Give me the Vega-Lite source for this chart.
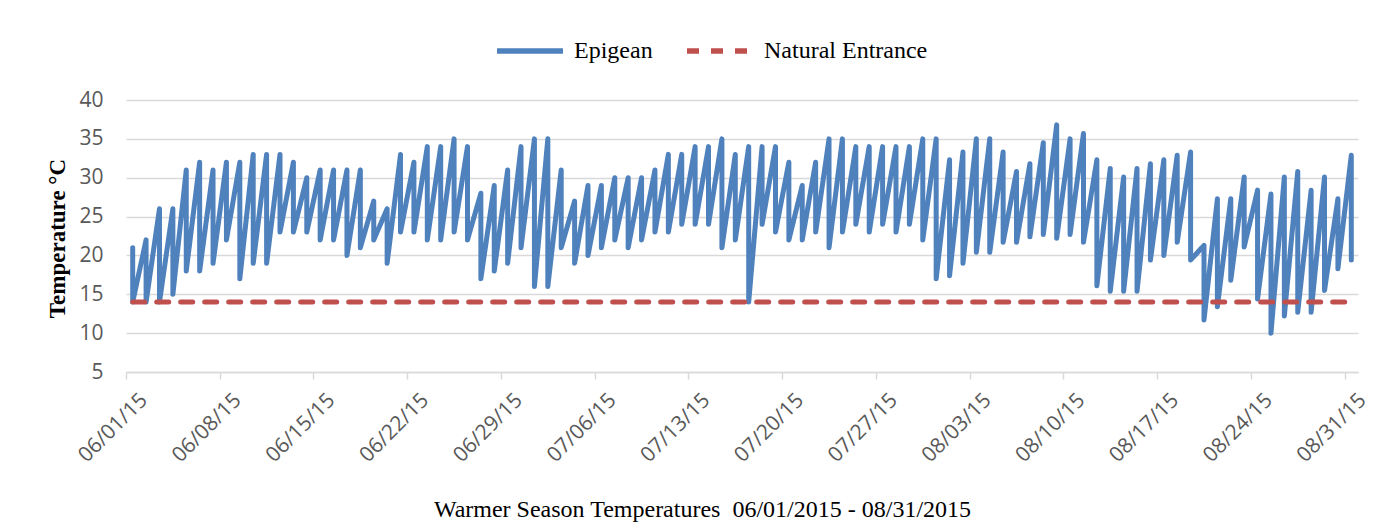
{
  "$schema": "https://vega.github.io/schema/vega-lite/v6.json",
  "width": 1232,
  "height": 272,
  "autosize": {"type": "none"},
  "padding": {"left": 126, "top": 100, "right": 29, "bottom": 155},
  "background": "white",
  "config": {
    "view": {"stroke": null},
    "axis": {"labelFont": "Open Sans", "labelColor": "#595959", "labelFontSize": 21, "gridColor": "#D9D9D9", "gridWidth": 1.5, "domainColor": "#D9D9D9", "tickColor": "#D9D9D9"},
    "legend": {
      "orient": "none", "legendX": 368, "legendY": -85, "direction": "horizontal",
      "symbolType": "stroke", "symbolSize": 4356, "symbolStrokeWidth": 5.5,
      "labelFont": "Liberation Serif", "labelFontSize": 24, "labelColor": "#000000", "labelLimit": 0,
      "labelOffset": 8, "columnPadding": 23, "title": null
    }
  },
  "data": {"values": [
    {"date": "2015-06-01T12:00:00", "max": 21, "min": 14, "ne": 14},
    {"date": "2015-06-02T12:00:00", "max": 22, "min": 14, "ne": 14},
    {"date": "2015-06-03T12:00:00", "max": 26, "min": 14, "ne": 14},
    {"date": "2015-06-04T12:00:00", "max": 26, "min": 15, "ne": 14},
    {"date": "2015-06-05T12:00:00", "max": 31, "min": 18, "ne": 14},
    {"date": "2015-06-06T12:00:00", "max": 32, "min": 18, "ne": 14},
    {"date": "2015-06-07T12:00:00", "max": 31, "min": 19, "ne": 14},
    {"date": "2015-06-08T12:00:00", "max": 32, "min": 22, "ne": 14},
    {"date": "2015-06-09T12:00:00", "max": 32, "min": 17, "ne": 14},
    {"date": "2015-06-10T12:00:00", "max": 33, "min": 19, "ne": 14},
    {"date": "2015-06-11T12:00:00", "max": 33, "min": 19, "ne": 14},
    {"date": "2015-06-12T12:00:00", "max": 33, "min": 23, "ne": 14},
    {"date": "2015-06-13T12:00:00", "max": 32, "min": 23, "ne": 14},
    {"date": "2015-06-14T12:00:00", "max": 30, "min": 23, "ne": 14},
    {"date": "2015-06-15T12:00:00", "max": 31, "min": 22, "ne": 14},
    {"date": "2015-06-16T12:00:00", "max": 31, "min": 22, "ne": 14},
    {"date": "2015-06-17T12:00:00", "max": 31, "min": 20, "ne": 14},
    {"date": "2015-06-18T12:00:00", "max": 31, "min": 21, "ne": 14},
    {"date": "2015-06-19T12:00:00", "max": 27, "min": 22, "ne": 14},
    {"date": "2015-06-20T12:00:00", "max": 26, "min": 19, "ne": 14},
    {"date": "2015-06-21T12:00:00", "max": 33, "min": 23, "ne": 14},
    {"date": "2015-06-22T12:00:00", "max": 32, "min": 23, "ne": 14},
    {"date": "2015-06-23T12:00:00", "max": 34, "min": 22, "ne": 14},
    {"date": "2015-06-24T12:00:00", "max": 34, "min": 22, "ne": 14},
    {"date": "2015-06-25T12:00:00", "max": 35, "min": 23, "ne": 14},
    {"date": "2015-06-26T12:00:00", "max": 34, "min": 22, "ne": 14},
    {"date": "2015-06-27T12:00:00", "max": 28, "min": 17, "ne": 14},
    {"date": "2015-06-28T12:00:00", "max": 29, "min": 18, "ne": 14},
    {"date": "2015-06-29T12:00:00", "max": 31, "min": 19, "ne": 14},
    {"date": "2015-06-30T12:00:00", "max": 34, "min": 21, "ne": 14},
    {"date": "2015-07-01T12:00:00", "max": 35, "min": 16, "ne": 14},
    {"date": "2015-07-02T12:00:00", "max": 35, "min": 16, "ne": 14},
    {"date": "2015-07-03T12:00:00", "max": 31, "min": 21, "ne": 14},
    {"date": "2015-07-04T12:00:00", "max": 27, "min": 19, "ne": 14},
    {"date": "2015-07-05T12:00:00", "max": 29, "min": 20, "ne": 14},
    {"date": "2015-07-06T12:00:00", "max": 29, "min": 21, "ne": 14},
    {"date": "2015-07-07T12:00:00", "max": 30, "min": 22, "ne": 14},
    {"date": "2015-07-08T12:00:00", "max": 30, "min": 21, "ne": 14},
    {"date": "2015-07-09T12:00:00", "max": 30, "min": 22, "ne": 14},
    {"date": "2015-07-10T12:00:00", "max": 31, "min": 23, "ne": 14},
    {"date": "2015-07-11T12:00:00", "max": 33, "min": 23, "ne": 14},
    {"date": "2015-07-12T12:00:00", "max": 33, "min": 24, "ne": 14},
    {"date": "2015-07-13T12:00:00", "max": 34, "min": 24, "ne": 14},
    {"date": "2015-07-14T12:00:00", "max": 34, "min": 24, "ne": 14},
    {"date": "2015-07-15T12:00:00", "max": 35, "min": 21, "ne": 14},
    {"date": "2015-07-16T12:00:00", "max": 33, "min": 22, "ne": 14},
    {"date": "2015-07-17T12:00:00", "max": 34, "min": 14, "ne": 14},
    {"date": "2015-07-18T12:00:00", "max": 34, "min": 24, "ne": 14},
    {"date": "2015-07-19T12:00:00", "max": 34, "min": 23, "ne": 14},
    {"date": "2015-07-20T12:00:00", "max": 32, "min": 22, "ne": 14},
    {"date": "2015-07-21T12:00:00", "max": 29, "min": 22, "ne": 14},
    {"date": "2015-07-22T12:00:00", "max": 32, "min": 23, "ne": 14},
    {"date": "2015-07-23T12:00:00", "max": 35, "min": 21, "ne": 14},
    {"date": "2015-07-24T12:00:00", "max": 35, "min": 23, "ne": 14},
    {"date": "2015-07-25T12:00:00", "max": 34, "min": 24, "ne": 14},
    {"date": "2015-07-26T12:00:00", "max": 34, "min": 23, "ne": 14},
    {"date": "2015-07-27T12:00:00", "max": 34, "min": 24, "ne": 14},
    {"date": "2015-07-28T12:00:00", "max": 34, "min": 23, "ne": 14},
    {"date": "2015-07-29T12:00:00", "max": 34, "min": 24, "ne": 14},
    {"date": "2015-07-30T12:00:00", "max": 35, "min": 22, "ne": 14},
    {"date": "2015-07-31T12:00:00", "max": 35, "min": 17, "ne": 14},
    {"date": "2015-08-01T12:00:00", "max": 32.3, "min": 17.4, "ne": 14},
    {"date": "2015-08-02T12:00:00", "max": 33.3, "min": 19, "ne": 14},
    {"date": "2015-08-03T12:00:00", "max": 35, "min": 20.4, "ne": 14},
    {"date": "2015-08-04T12:00:00", "max": 35, "min": 20.4, "ne": 14},
    {"date": "2015-08-05T12:00:00", "max": 33.3, "min": 21.7, "ne": 14},
    {"date": "2015-08-06T12:00:00", "max": 30.8, "min": 21.7, "ne": 14},
    {"date": "2015-08-07T12:00:00", "max": 31.8, "min": 22.4, "ne": 14},
    {"date": "2015-08-08T12:00:00", "max": 34.5, "min": 22.7, "ne": 14},
    {"date": "2015-08-09T12:00:00", "max": 36.8, "min": 22.2, "ne": 14},
    {"date": "2015-08-10T12:00:00", "max": 35, "min": 22.7, "ne": 14},
    {"date": "2015-08-11T12:00:00", "max": 35.7, "min": 21.7, "ne": 14},
    {"date": "2015-08-12T12:00:00", "max": 32.3, "min": 16.1, "ne": 14},
    {"date": "2015-08-13T12:00:00", "max": 31.2, "min": 15.4, "ne": 14},
    {"date": "2015-08-14T12:00:00", "max": 30.1, "min": 15.4, "ne": 14},
    {"date": "2015-08-15T12:00:00", "max": 31.2, "min": 15.4, "ne": 14},
    {"date": "2015-08-16T12:00:00", "max": 31.8, "min": 19.4, "ne": 14},
    {"date": "2015-08-17T12:00:00", "max": 32.3, "min": 20, "ne": 14},
    {"date": "2015-08-18T12:00:00", "max": 32.9, "min": 21.7, "ne": 14},
    {"date": "2015-08-19T12:00:00", "max": 33.3, "min": 19.4, "ne": 14},
    {"date": "2015-08-20T12:00:00", "max": 21.3, "min": 11.7, "ne": 14},
    {"date": "2015-08-21T12:00:00", "max": 27.3, "min": 13.4, "ne": 14},
    {"date": "2015-08-22T12:00:00", "max": 27.3, "min": 16.8, "ne": 14},
    {"date": "2015-08-23T12:00:00", "max": 30.1, "min": 21.1, "ne": 14},
    {"date": "2015-08-24T12:00:00", "max": 28.4, "min": 14.4, "ne": 14},
    {"date": "2015-08-25T12:00:00", "max": 27.9, "min": 10, "ne": 14},
    {"date": "2015-08-26T12:00:00", "max": 30.1, "min": 12.2, "ne": 14},
    {"date": "2015-08-27T12:00:00", "max": 30.8, "min": 12.7, "ne": 14},
    {"date": "2015-08-28T12:00:00", "max": 28.4, "min": 12.7, "ne": 14},
    {"date": "2015-08-29T12:00:00", "max": 30.1, "min": 15.5, "ne": 14},
    {"date": "2015-08-30T12:00:00", "max": 27.3, "min": 18.3, "ne": 14},
    {"date": "2015-08-31T12:00:00", "max": 32.9, "min": 19.4, "ne": 14}
  ]},
  "encoding": {
    "x": {
      "field": "date", "type": "temporal",
      "scale": {"domain": [{"year": 2015, "month": 6, "date": 1}, {"year": 2015, "month": 9, "date": 1}]},
      "axis": {
        "values": [
          {"year": 2015, "month": 6, "date": 1}, {"year": 2015, "month": 6, "date": 8}, {"year": 2015, "month": 6, "date": 15},
          {"year": 2015, "month": 6, "date": 22}, {"year": 2015, "month": 6, "date": 29}, {"year": 2015, "month": 7, "date": 6},
          {"year": 2015, "month": 7, "date": 13}, {"year": 2015, "month": 7, "date": 20}, {"year": 2015, "month": 7, "date": 27},
          {"year": 2015, "month": 8, "date": 3}, {"year": 2015, "month": 8, "date": 10}, {"year": 2015, "month": 8, "date": 17},
          {"year": 2015, "month": 8, "date": 24}, {"year": 2015, "month": 8, "date": 31}
        ],
        "format": "%m/%d/%y", "formatType": "time",
        "labelAngle": -45, "labelAlign": "right", "labelBaseline": "top",
        "labelPadding": 10, "labelOffset": 10, "labelOverlap": false, "labelFlush": false,
        "grid": false, "domainWidth": 1.5, "tickSize": 7, "tickWidth": 1.5,
        "title": "Warmer Season Temperatures \u00a006/01/2015 - 08/31/2015",
        "titleFont": "Liberation Serif", "titleFontSize": 24, "titleFontWeight": "normal", "titleColor": "#000000",
        "titleX": 576, "titleY": 144, "titleAlign": "center", "titleBaseline": "alphabetic"
      }
    },
    "y": {
      "field": "temp", "type": "quantitative",
      "scale": {"domain": [5, 40], "nice": false, "zero": false},
      "axis": {
        "values": [5, 10, 15, 20, 25, 30, 35, 40],
        "ticks": false, "domain": false, "labelPadding": 23, "labelOverlap": false, "grid": true,
        "title": "Temperature °C", "titleFont": "Liberation Serif", "titleFontSize": 23, "titleFontWeight": "bold", "titleColor": "#000000",
        "titleX": -62, "titleY": 138, "titleAngle": -90, "titleAlign": "center", "titleBaseline": "alphabetic"
      }
    },
    "color": {
      "datum": "Epigean",
      "scale": {"domain": ["Epigean", "Natural Entrance"], "range": ["#4F81BD", "#C0504D"]}
    },
    "strokeDash": {
      "datum": "Epigean",
      "scale": {"domain": ["Epigean", "Natural Entrance"], "range": [[1, 0], [12, 12]]}
    }
  },
  "layer": [
    {
      "transform": [{"fold": ["max", "min"], "as": ["kind", "temp"]}],
      "mark": {"type": "line", "strokeWidth": 5, "strokeJoin": "round", "strokeCap": "round"},
      "encoding": {
        "order": [{"field": "date", "type": "temporal"}, {"field": "kind", "type": "ordinal"}]
      }
    },
    {
      "transform": [{"fold": ["ne"], "as": ["kind", "temp"]}],
      "mark": {"type": "line", "strokeWidth": 5, "strokeCap": "round"},
      "encoding": {
        "color": {"datum": "Natural Entrance"},
        "strokeDash": {"datum": "Natural Entrance"}
      }
    }
  ]
}
